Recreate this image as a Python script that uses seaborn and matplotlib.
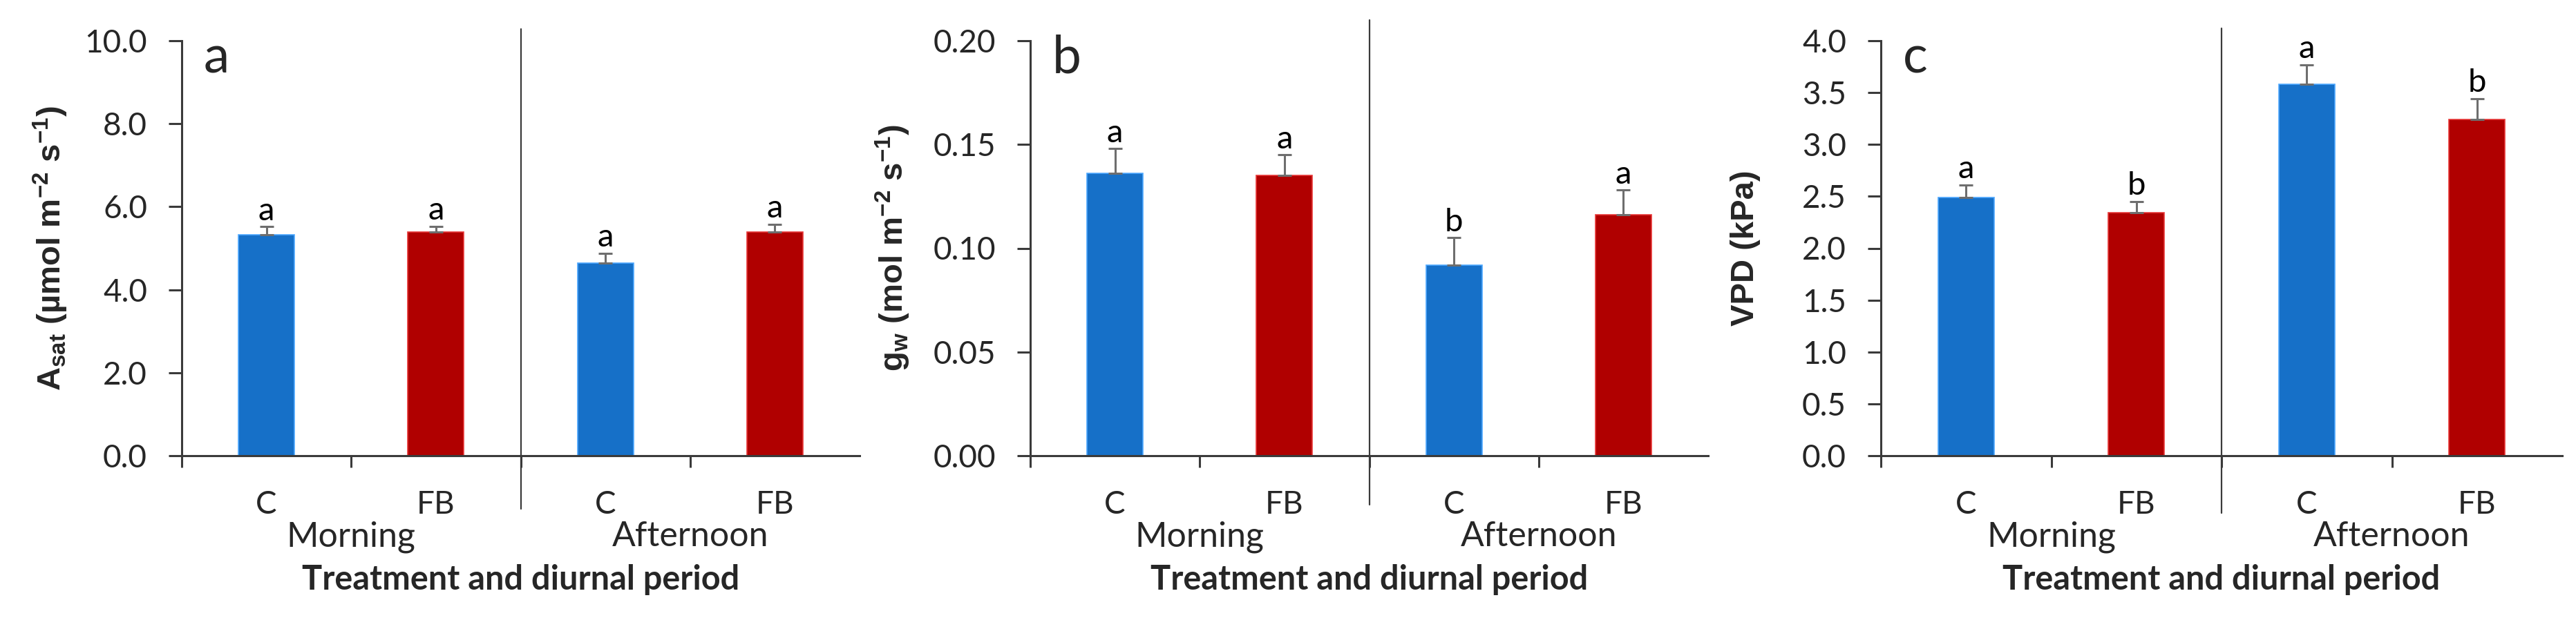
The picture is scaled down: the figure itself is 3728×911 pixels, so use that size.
import numpy as np
import pandas as pd
import seaborn as sns
import matplotlib.pyplot as plt
import matplotlib.transforms as mtransforms
from matplotlib.ticker import FormatStrFormatter

sns.set_style("white")
plt.rcParams['font.family'] = ['Lato', 'DejaVu Sans']
plt.rcParams['mathtext.default'] = 'regular'

# bars: morning C, morning FB, afternoon C, afternoon FB
groups = ["Morning C", "Morning FB", "Afternoon C", "Afternoon FB"]
treatment = ["C", "FB", "C", "FB"]
periods = ["Morning", "Afternoon"]

asat = [5.33, 5.39, 4.64, 5.39]
asat_se = [0.19, 0.14, 0.24, 0.19]
asat_letters = ["a", "a", "a", "a"]

gw = [0.136, 0.135, 0.092, 0.116]
gw_se = [0.012, 0.010, 0.013, 0.012]
gw_letters = ["a", "a", "b", "a"]

vpd = [2.49, 2.34, 3.58, 3.24]
vpd_se = [0.12, 0.11, 0.19, 0.20]
vpd_letters = ["a", "b", "a", "b"]

blue = "#1670C8"
red = "#B00000"
axis_col = "#3a3a3a"

panels = [
    dict(vals=asat, se=asat_se, letters=asat_letters, tag="a",
         ylabel=r"A$_{\mathregular{sat}}$ (µmol m$^{-2}$ s$^{-1}$)",
         ymax=10.0, step=2.0, fmt="%.1f", rect=[263, 1244], lab_x=-0.165,
         sep=(-0.128, 1.028)),
    dict(vals=gw, se=gw_se, letters=gw_letters, tag="b",
         ylabel=r"g$_{\mathregular{w}}$ (mol m$^{-2}$ s$^{-1}$)",
         ymax=0.20, step=0.05, fmt="%.2f", rect=[1491, 2472], lab_x=-0.174,
         sep=(-0.118, 1.05)),
    dict(vals=vpd, se=vpd_se, letters=vpd_letters, tag="c",
         ylabel="VPD (kPa)",
         ymax=4.0, step=0.5, fmt="%.1f", rect=[2722, 3708], lab_x=-0.176,
         sep=(-0.138, 1.03)),
]

W, H = 3728, 911
fig = plt.figure(figsize=(W / 100, H / 100), dpi=100)
y_top, y_bot = 59, 660

for p in panels:
    x0, x1 = p["rect"]
    ax = fig.add_axes([x0 / W, (H - y_bot) / H, (x1 - x0) / W, (y_bot - y_top) / H])
    df = pd.DataFrame({"group": groups, "treatment": treatment, "value": p["vals"]})
    sns.barplot(data=df, x="group", y="value", hue="treatment", order=groups,
                palette={"C": blue, "FB": red}, dodge=False, width=0.33,
                saturation=1, legend=False, ax=ax, linewidth=0)
    for bar in ax.patches:
        fc = bar.get_facecolor()
        bar.set_edgecolor((min(fc[0] + 0.22, 1), min(fc[1] + 0.22, 1), min(fc[2] + 0.22, 1)))
        bar.set_linewidth(1.2)

    xs = np.arange(len(groups))
    ax.errorbar(xs, p["vals"], yerr=[np.zeros(len(xs)), p["se"]], fmt="none",
                ecolor="#6e6e6e", elinewidth=2.2, capsize=7.5, capthick=2.2, zorder=3)
    for x, v, e, l in zip(xs, p["vals"], p["se"], p["letters"]):
        ax.annotate(l, (x, v + e), xytext=(0, 7), textcoords="offset points",
                    ha="center", va="baseline", fontsize=34, color="black")

    ax.set_xlim(-0.5, 3.5)
    ax.set_ylim(0, p["ymax"])
    ax.set_yticks(np.arange(0, p["ymax"] + p["step"] / 2, p["step"]))
    ax.yaxis.set_major_formatter(FormatStrFormatter(p["fmt"]))
    ax.tick_params(axis="y", direction="out", length=14, width=2.2, pad=22,
                   labelsize=33, color=axis_col, left=True)

    ax.set_xticks([-0.5, 0.5, 1.5, 2.5])
    ax.set_xticklabels([])
    ax.set_xticks(xs, minor=True)
    ax.set_xticklabels(treatment, minor=True)
    ax.tick_params(axis="x", which="major", direction="out", length=12,
                   width=2.2, color=axis_col, bottom=True)
    ax.tick_params(axis="x", which="minor", length=0, pad=36, labelsize=33)

    for s in ["top", "right"]:
        ax.spines[s].set_visible(False)
    for s in ["left", "bottom"]:
        ax.spines[s].set_linewidth(2.2)
        ax.spines[s].set_color(axis_col)

    ax.axvline(1.5, ymin=p["sep"][0], ymax=p["sep"][1], clip_on=False,
               color=axis_col, lw=1.6)

    trans = mtransforms.blended_transform_factory(ax.transData, ax.transAxes)
    for cx, name in zip([0.5, 2.5], periods):
        ax.text(cx, -0.218, name, transform=trans, ha="center", va="baseline",
                fontsize=36)

    ax.text(0.032, 0.922, p["tag"], transform=ax.transAxes, ha="left",
            va="baseline", fontsize=54)

    ax.set_ylabel(p["ylabel"], fontsize=34, fontweight="bold",
                  family=["Liberation Sans", "DejaVu Sans"])
    ax.yaxis.set_label_coords(p["lab_x"], 0.5)
    ax.set_xlabel("Treatment and diurnal period", fontsize=35, fontweight="bold")
    ax.xaxis.set_label_coords(0.5, -0.262)

fig.savefig("out.png", dpi=100)
